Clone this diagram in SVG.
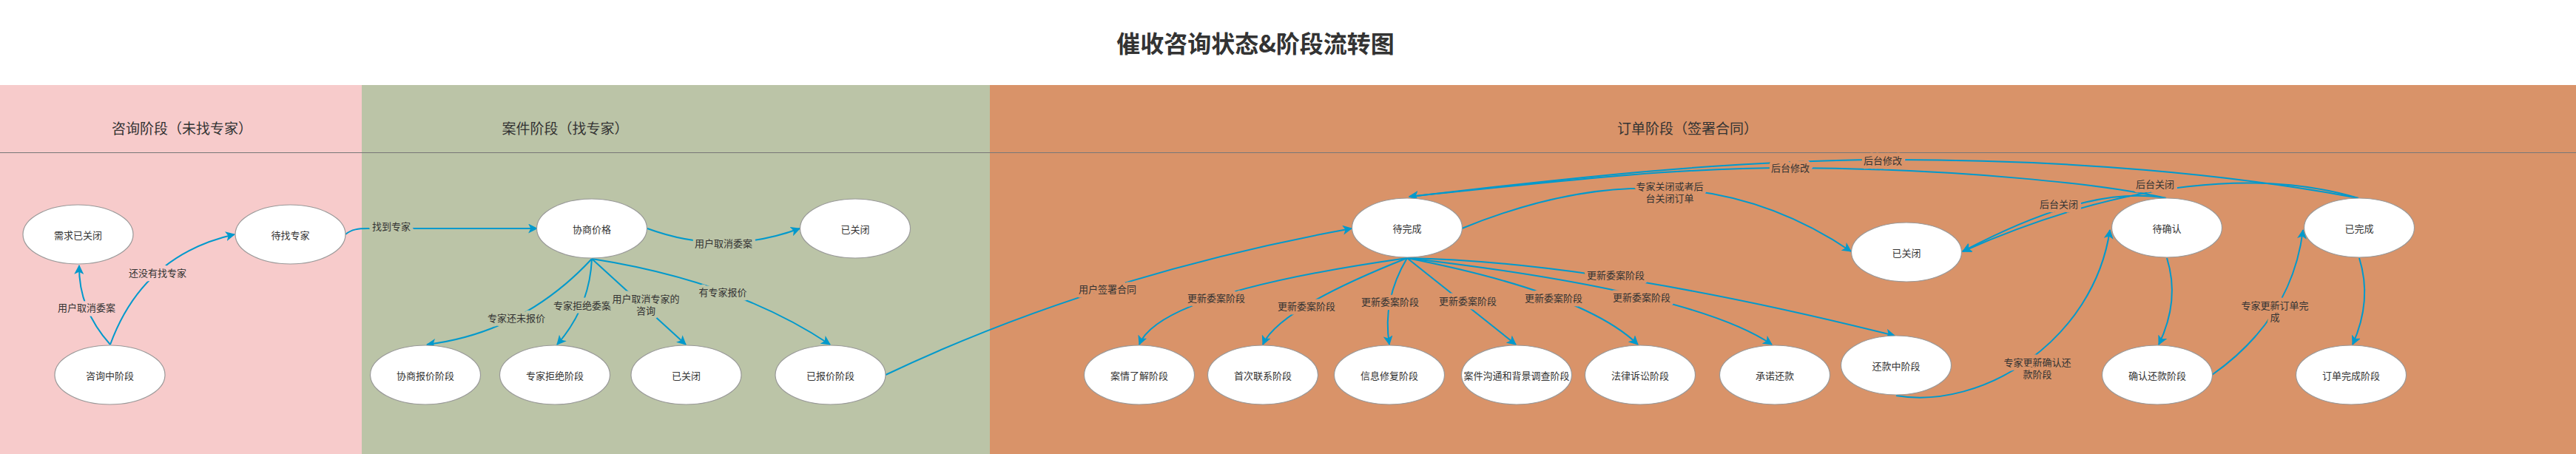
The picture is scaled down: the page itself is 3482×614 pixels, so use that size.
<svg xmlns="http://www.w3.org/2000/svg" width="3482" height="614" viewBox="0 0 3482 614">
<style>
.t{font-family:"Noto Sans CJK SC","Liberation Sans",sans-serif;font-size:13px;fill:#333;text-anchor:middle;dominant-baseline:central}
.lane{font-size:19px}
.title{font-size:32px;font-weight:bold;fill:#333}
.node ellipse{fill:#fff;stroke:#999;stroke-width:1.2}
.e{fill:none;stroke:#0099CC;stroke-width:2;marker-end:url(#ar)}
.h{paint-order:stroke;stroke-width:9;stroke-linejoin:round}
.hp{stroke:#F7CBCB}.hg{stroke:#BBC4A7}.ho{stroke:#D99369}
</style>
<defs>
<marker id="ar" viewBox="0 0 12 12" refX="11" refY="6" markerWidth="13" markerHeight="13" markerUnits="userSpaceOnUse" orient="auto">
<path d="M0,0 L12,6 L0,12 L3,6 z" fill="#0099CC"/>
</marker>
</defs>
<rect x="0" y="0" width="3482" height="614" fill="#fff"/>
<g id="lanes">
<rect x="0" y="115" width="489" height="499" fill="#F7CBCB"/>
<rect x="489" y="115" width="849" height="499" fill="#BBC4A7"/>
<rect x="1338" y="115" width="2144" height="499" fill="#D99369"/>
<line x1="0" y1="206.5" x2="3482" y2="206.5" stroke="#777" stroke-width="1.2"/>
<text class="t title" x="1697" y="57">催收咨询状态&amp;阶段流转图</text>
<text class="t lane" x="246" y="172">咨询阶段（未找专家）</text>
<text class="t lane" x="764" y="172">案件阶段（找专家）</text>
<text class="t lane" x="2281" y="172">订单阶段（签署合同）</text>
</g>
<g id="connectors">
<path class="e" d="M149,466 Q106,418 107,359"/>
<path class="e" d="M149,466 Q193,345 317,317"/>
<path class="e" d="M467,317 C475,310 485,309 497,309 L726,309"/>
<path class="e" d="M875,309 Q978,347 1081,309"/>
<path class="e" d="M800,350 Q707,450 577,466"/>
<path class="e" d="M800,350 Q797,416 753,466"/>
<path class="e" d="M800,350 L927,466"/>
<path class="e" d="M800,350 Q993,380 1122,466"/>
<path class="e" d="M1197,507 Q1481,372 1827,309"/>
<path class="e" d="M1902,349 Q1568,396 1540,466"/>
<path class="e" d="M1902,349 Q1728,418 1707,466"/>
<path class="e" d="M1902,349 Q1868,406 1878,466"/>
<path class="e" d="M1902,349 L2049,466"/>
<path class="e" d="M1902,349 Q2142,396 2214,466"/>
<path class="e" d="M1902,349 Q2289,394 2395,466"/>
<path class="e" d="M1902,349 Q2162,354 2561,454"/>
<path class="e" d="M1976,309 Q2275,186 2502,340"/>
<path class="e" d="M2928,268 C2870,258 2790,268 2653,340"/>
<path class="e" d="M3188,268 C3060,230 2880,240 2653,340"/>
<path class="e" d="M3188,268 C3020,236 2800,216 2560,216 C2320,216 2080,246 1905,266"/>
<path class="e" d="M2928,268 C2850,250 2650,228 2420,227 C2250,227 2080,248 1905,266"/>
<path class="e" d="M2929,349 Q2947,406 2918,466"/>
<path class="e" d="M2563,535 C2680,555 2830,460 2852,311"/>
<path class="e" d="M2990,507 Q3098,431 3113,311"/>
<path class="e" d="M3189,349 Q3207,406 3180,466"/>
</g>
<g id="connector-labels">
<text class="t h hp" x="117" y="415">用户取消委案</text>
<text class="t h hp" x="213" y="368">还没有找专家</text>
<text class="t h hg" x="529" y="305">找到专家</text>
<text class="t h hg" x="978" y="328">用户取消委案</text>
<text class="t h hg" x="698" y="429">专家还未报价</text>
<text class="t h hg" x="787" y="412">专家拒绝委案</text>
<text class="t h hg" x="873" y="403">用户取消专家的</text>
<text class="t h hg" x="873" y="419">咨询</text>
<text class="t h hg" x="977" y="394">有专家报价</text>
<text class="t h ho" x="1497" y="390">用户签署合同</text>
<text class="t h ho" x="1644" y="402">更新委案阶段</text>
<text class="t h ho" x="1766" y="413">更新委案阶段</text>
<text class="t h ho" x="1879" y="407">更新委案阶段</text>
<text class="t h ho" x="1984" y="406">更新委案阶段</text>
<text class="t h ho" x="2100" y="402">更新委案阶段</text>
<text class="t h ho" x="2219" y="401">更新委案阶段</text>
<text class="t h ho" x="2184" y="371">更新委案阶段</text>
<text class="t h ho" x="2257" y="251">专家关闭或者后</text>
<text class="t h ho" x="2257" y="267">台关闭订单</text>
<text class="t h ho" x="2545" y="216">后台修改</text>
<text class="t h ho" x="2420" y="226">后台修改</text>
<text class="t h ho" x="2913" y="248">后台关闭</text>
<text class="t h ho" x="2783" y="275">后台关闭</text>
<text class="t h ho" x="2754" y="489">专家更新确认还</text>
<text class="t h ho" x="2754" y="505">款阶段</text>
<text class="t h ho" x="3075" y="412">专家更新订单完</text>
<text class="t h ho" x="3075" y="428">成</text>
</g>
<g id="n-demand-closed" class="node"><ellipse cx="105.5" cy="317" rx="74.5" ry="40"/><text class="t" x="105.5" y="317">需求已关闭</text></g>
<g id="n-find-expert" class="node"><ellipse cx="392.5" cy="317" rx="74.5" ry="40"/><text class="t" x="392.5" y="317">待找专家</text></g>
<g id="n-consulting" class="node"><ellipse cx="148.5" cy="507" rx="74.5" ry="40"/><text class="t" x="148.5" y="507">咨询中阶段</text></g>
<g id="n-negotiate" class="node"><ellipse cx="800" cy="309" rx="74.5" ry="40"/><text class="t" x="800" y="309">协商价格</text></g>
<g id="n-closed-a" class="node"><ellipse cx="1156" cy="309" rx="74.5" ry="40"/><text class="t" x="1156" y="309">已关闭</text></g>
<g id="n-quote-negotiate" class="node"><ellipse cx="575" cy="507" rx="74.5" ry="40"/><text class="t" x="575" y="507">协商报价阶段</text></g>
<g id="n-expert-reject" class="node"><ellipse cx="750" cy="507" rx="74.5" ry="40"/><text class="t" x="750" y="507">专家拒绝阶段</text></g>
<g id="n-closed-b" class="node"><ellipse cx="927.5" cy="507" rx="74.5" ry="40"/><text class="t" x="927.5" y="507">已关闭</text></g>
<g id="n-quoted" class="node"><ellipse cx="1122.5" cy="507" rx="74.5" ry="40"/><text class="t" x="1122.5" y="507">已报价阶段</text></g>
<g id="n-pending" class="node"><ellipse cx="1902" cy="308" rx="74.5" ry="40"/><text class="t" x="1902" y="308">待完成</text></g>
<g id="n-closed-c" class="node"><ellipse cx="2577" cy="341" rx="74.5" ry="40"/><text class="t" x="2577" y="341">已关闭</text></g>
<g id="n-to-confirm" class="node"><ellipse cx="2929" cy="308" rx="74.5" ry="40"/><text class="t" x="2929" y="308">待确认</text></g>
<g id="n-completed" class="node"><ellipse cx="3189" cy="308" rx="74.5" ry="40"/><text class="t" x="3189" y="308">已完成</text></g>
<g id="n-case-learn" class="node"><ellipse cx="1540" cy="507" rx="74.5" ry="40"/><text class="t" x="1540" y="507">案情了解阶段</text></g>
<g id="n-first-contact" class="node"><ellipse cx="1707" cy="507" rx="74.5" ry="40"/><text class="t" x="1707" y="507">首次联系阶段</text></g>
<g id="n-info-repair" class="node"><ellipse cx="1878" cy="507" rx="74.5" ry="40"/><text class="t" x="1878" y="507">信息修复阶段</text></g>
<g id="n-comm-bg" class="node"><ellipse cx="2050" cy="507" rx="74.5" ry="40"/><text class="t" x="2050" y="507">案件沟通和背景调查阶段</text></g>
<g id="n-litigation" class="node"><ellipse cx="2217" cy="507" rx="74.5" ry="40"/><text class="t" x="2217" y="507">法律诉讼阶段</text></g>
<g id="n-promise" class="node"><ellipse cx="2399" cy="507" rx="74.5" ry="40"/><text class="t" x="2399" y="507">承诺还款</text></g>
<g id="n-repaying" class="node"><ellipse cx="2563" cy="494" rx="74.5" ry="40"/><text class="t" x="2563" y="494">还款中阶段</text></g>
<g id="n-confirm-repay" class="node"><ellipse cx="2916" cy="507" rx="74.5" ry="40"/><text class="t" x="2916" y="507">确认还款阶段</text></g>
<g id="n-order-done" class="node"><ellipse cx="3178" cy="507" rx="74.5" ry="40"/><text class="t" x="3178" y="507">订单完成阶段</text></g>
</svg>
